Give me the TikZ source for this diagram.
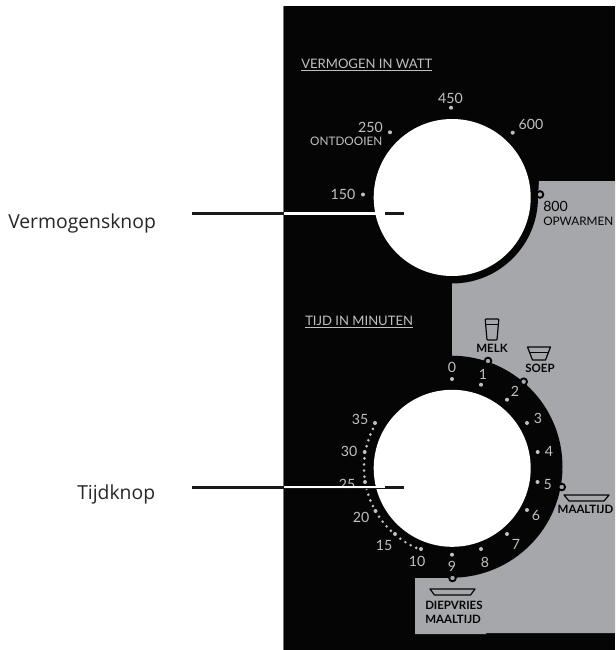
\documentclass[tikz,border=0pt]{standalone}
\usepackage{fontspec}
\setmainfont{Lato}
\newfontfamily\calloutfont{Open Sans}
\definecolor{panelgray}{HTML}{A6A7AB}
\definecolor{labelgray}{HTML}{C0C0C3}
\definecolor{ink}{HTML}{050505}
\tikzset{
  x=0.75pt,y=-0.75pt,
  knob/.style={circle,fill=white,draw=none,minimum size=117.75pt,inner sep=0pt},
  tick/.style={circle,fill=labelgray,draw=none,minimum size=3pt,inner sep=0pt},
  minor/.style={circle,fill=labelgray,draw=none,minimum size=2.2pt,inner sep=0pt},
  ringmark/.style={circle,fill=panelgray,draw=ink,line width=1.4pt,minimum size=5pt,inner sep=0pt},
  num/.style={text=labelgray,font=\fontsize{10.6}{12}\selectfont,inner sep=0pt},
  numdark/.style={text=ink,font=\fontsize{10.6}{12}\selectfont,inner sep=0pt},
  small/.style={text=labelgray,font=\fontsize{8.8}{10}\selectfont,inner sep=0pt},
  smalldark/.style={text=ink,font=\fontsize{8.8}{10}\selectfont,inner sep=0pt},
  head/.style={text=labelgray,font=\fontsize{9.8}{11}\selectfont,inner sep=0pt},
  food/.style={text=ink,font=\bfseries\fontsize{8.6}{10}\selectfont,inner sep=0pt},
  callout/.style={text=black!85,font=\calloutfont\fontsize{14.5}{17}\selectfont,inner sep=0pt},
  icon/.style={draw=ink,line width=0.9pt,line join=round},
  leader/.style={draw=black!90,line width=1.9pt},
  leaderlight/.style={draw=white,line width=1.6pt},
  underline/.style={draw=labelgray,line width=0.5pt}
}
\begin{document}
\begin{tikzpicture}
\useasboundingbox (0,0) rectangle (615,650);
% panel
\fill[white] (0,0) rectangle (615,650);
\fill[ink] (283,6) rectangle (615,650);
\fill[black!55] (283,6) rectangle (284,650);
\fill[panelgray] (539,181) -- (615,181) -- (615,633) -- (486,633) -- (486,634) -- (415,634) -- (415,578) -- (452,578) -- (452,197) -- (538,197) -- cycle;
% rings and knobs
\fill[ink] (452,197.5) circle[radius=86];
\fill[ink] (451.5,466.7) circle[radius=111];
\node[knob] (k1) at (452.2,197.5) {};
\node[knob] (k2) at (452.2,468.3) {};
% power scale
\node[head,anchor=west] (hv) at (301,64) {VERMOGEN IN WATT};
\draw[underline] (301,70.7) -- (432,70.7);
\node[tick] (p450) at (451,107.7) {};
\node[tick] (p600) at (512.7,132.7) {};
\node[tick] (p250) at (390,132.3) {};
\node[tick] (p150) at (363,194.5) {};
\node[ringmark] (p800) at (540,194.5) {};
\node[num] (t450) at (450.5,98) {450};
\node[num] (t600) at (531,124) {600};
\node[num,anchor=east] (t250) at (383,127) {250};
\node[small,anchor=east] (tont) at (382.5,141) {ONTDOOIEN};
\node[num] (t150) at (343,194) {150};
\node[numdark,anchor=west] (t800) at (543,206) {800};
\node[smalldark,anchor=west] (topw) at (543,221) {OPWARMEN};
% time scale
\node[head,anchor=west] (ht) at (305,321) {TIJD IN MINUTEN};
\draw[underline] (305,327) -- (413,327);
\foreach \n/\dx/\dy/\lx/\ly in {
  0/452/379/452/367, 1/481/384.7/483/374.7, 2/507/399.7/515/391,
  3/527/423/538/418, 4/537.7/452/549/451, 5/537.5/482/547.7/484,
  6/527/510/536/515, 7/507/534/516/544.5, 8/481/549/485/562,
  9/452/554.7/452/566, 10/421/549/417/561, 15/395/534/384/545,
  20/375.5/511/361/517, 25/365/482/347/484, 30/364.7/452/349/451,
  35/375/423/360/419}{
  \node[tick] (d\n) at (\dx,\dy) {};
  \node[num] (l\n) at (\lx,\ly) {\n};
}
\foreach \a in {154,158,162,166,174,178,182,186,194,198,202,206,214,218,222,226,234,238,242,246}
  \node[minor] at ({452+88*cos(\a)},{467.5-88*sin(\a)}) {};
\node[ringmark] (r1) at (488,361) {};
\node[ringmark] (r2) at (523.7,381.7) {};
\node[ringmark] (r5) at (561.7,487) {};
\node[ringmark] (r9) at (452.5,578) {};
% food labels
\node[food] (melk) at (492,348) {MELK};
\draw[icon,rounded corners=0.6pt] (485.2,319) -- (498.8,319) -- (497,340) -- (487,340) -- cycle;
\draw[icon,line width=0.6pt] (485.6,324) -- (498.4,324);
\node[food] (soep) at (540,368) {SOEP};
\draw[icon] (527.5,347) -- (550.5,347) -- (545.5,360) -- (532.5,360) -- cycle;
\draw[icon,line width=0.6pt] (529.5,352) -- (548.5,352);
\node[food] (maal) at (585.5,509.5) {MAALTIJD};
\draw[icon] (564,495) -- (609,495) -- (604,501) -- (569,501) -- cycle;
\node[food,anchor=west] (diep) at (425,605.7) {DIEPVRIES};
\node[food,anchor=west] (maal2) at (425,619.3) {MAALTIJD};
\draw[icon] (430,589) -- (475,589) -- (470.5,595) -- (434.5,595) -- cycle;
% callouts
\node[callout,anchor=base west] (c1) at (8,228) {Vermogensknop};
\node[callout,anchor=base west] (c2) at (77,499) {Tijdknop};
\coordinate (s1) at (192,213.5);
\coordinate (e1) at (404,213.5);
\coordinate (w1a) at (284,213.5);
\coordinate (w1b) at (385,213.5);
\coordinate (s2) at (192,487.3);
\coordinate (e2) at (404,487.3);
\coordinate (w2a) at (284,487.3);
\coordinate (w2b) at (385,487.3);
\draw[leader] (s1) -- (e1);
\draw[leaderlight] (w1a) -- (w1b);
\draw[leader] (s2) -- (e2);
\draw[leaderlight] (w2a) -- (w2b);
\end{tikzpicture}
\end{document}
